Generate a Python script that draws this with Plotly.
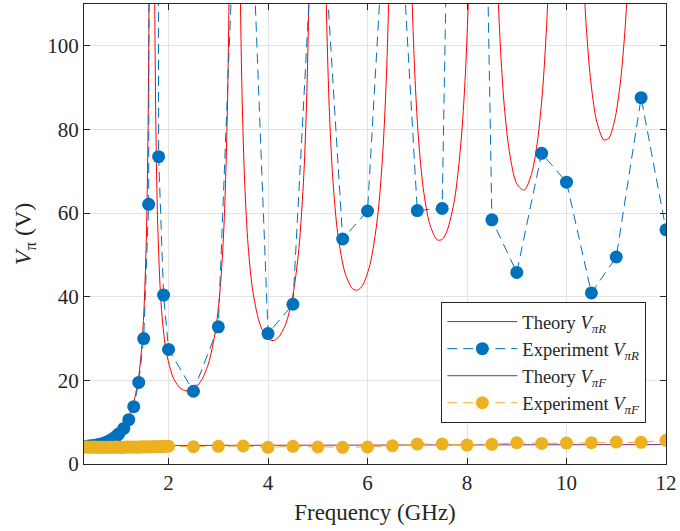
import plotly.graph_objects as go

# ---------------- data ----------------
# Theory V_piR : branches between resonances (None separates branches)
theory_R_f = [
    0.30, 0.50, 0.70, 0.90, 1.00, 1.10, 1.20, 1.30, 1.40, 1.45, 1.50, 1.55, 1.58, 1.60, 1.62, None,
    1.71, 1.72, 1.74, 1.78, 1.85, 1.95, 2.10, 2.25, 2.38, 2.50, 2.65, 2.80, 2.95, 3.05, 3.12, 3.18, 3.22, 3.24, None,
    3.43, 3.45, 3.48, 3.53, 3.60, 3.70, 3.85, 4.00, 4.10, 4.20, 4.35, 4.50, 4.62, 4.72, 4.78, 4.83, 4.86, None,
    5.15, 5.18, 5.23, 5.30, 5.40, 5.55, 5.70, 5.80, 5.90, 6.05, 6.20, 6.30, 6.38, 6.43, 6.47, None,
    6.87, 6.90, 6.95, 7.02, 7.12, 7.25, 7.40, 7.50, 7.60, 7.75, 7.88, 7.96, 8.02, 8.06, None,
    8.60, 8.63, 8.68, 8.75, 8.85, 9.00, 9.15, 9.30, 9.42, 9.52, 9.60, 9.65, None,
    10.30, 10.35, 10.40, 10.48, 10.60, 10.75, 10.85, 10.97, 11.08, 11.17, 11.22, 11.27,
]
theory_R_v = [
    4.00, 4.42, 5.17, 6.50, 7.54, 9.01, 11.21, 14.69, 21.03, 26.5, 35.41, 52.4, 72.4, 96.4, 142.8, None,
    138.0, 114.6, 86.0, 58.1, 38.3, 27.06, 20.46, 18.0, 17.45, 17.90, 19.82, 23.93, 32.33, 43.8, 58.7, 83.2, 115.8, 143.4, None,
    125.9, 106.4, 86.9, 67.3, 52.1, 40.8, 32.98, 29.95, 29.53, 30.17, 33.3, 40.4, 51.5, 69.4, 88.8, 116.9, 144.1, None,
    123.2, 105.1, 85.2, 68.5, 55.2, 45.6, 41.9, 41.56, 42.7, 47.7, 58.9, 73.1, 92.9, 113.0, 137.4, None,
    122.9, 109.4, 93.3, 78.5, 65.9, 57.4, 53.6, 53.7, 55.8, 63.3, 77.1, 91.7, 108.5, 124.5, None,
    120.1, 110.3, 97.7, 85.5, 74.8, 67.0, 65.5, 69.5, 77.5, 89.5, 104.8, 118.9, None,
    129.1, 114.7, 104.1, 92.4, 82.3, 77.5, 77.9, 82.3, 90.9, 102.9, 112.5, 125.0,
]

# Experiment V_piR
exp_R_f = [
    0.30, 0.35, 0.40, 0.45, 0.50, 0.55, 0.60, 0.65, 0.70, 0.75, 0.80, 0.85, 0.90, 0.95, 1.00,
    1.1, 1.2, 1.3, 1.4, 1.5, 1.6, 1.7, 1.8, 1.9, 2.0, 2.5, 3.0, 3.5, 4.0, 4.5, 5.0, 5.5,
    6.0, 6.5, 7.0, 7.5, 8.0, 8.5, 9.0, 9.5, 10.0, 10.5, 11.0, 11.5, 12.0,
]
exp_R_v = [
    4.20, 4.23, 4.28, 4.34, 4.42, 4.52, 4.65, 4.80, 4.99, 5.21, 5.48, 5.80, 6.18, 6.65, 7.22,
    8.5, 10.6, 13.7, 19.5, 30.0, 62.1, 900.0, 73.5, 40.4, 27.4, 17.4, 32.8, 185.0, 31.2, 38.2, 150.0, 53.8,
    60.5, 164.0, 60.6, 61.1, 400.0, 58.4, 45.8, 74.3, 67.4, 40.9, 49.5, 87.6, 56.0,
]

# Theory V_piF
theory_F_f = [0.3, 2.0, 4.0, 6.0, 8.0, 10.0, 12.0]
theory_F_v = [4.40, 4.45, 4.50, 4.55, 4.60, 4.62, 4.65]

# Experiment V_piF
exp_F_f = [
    0.30, 0.35, 0.40, 0.45, 0.50, 0.55, 0.60, 0.65, 0.70, 0.75, 0.80, 0.85, 0.90, 0.95, 1.00,
    1.05, 1.10, 1.15, 1.20, 1.25, 1.30, 1.35, 1.40, 1.45, 1.50, 1.55, 1.60, 1.65, 1.70, 1.75,
    1.80, 1.85, 1.90, 1.95, 2.00,
    2.5, 3.0, 3.5, 4.0, 4.5, 5.0, 5.5, 6.0, 6.5, 7.0, 7.5, 8.0, 8.5, 9.0, 9.5, 10.0, 10.5,
    11.0, 11.5, 12.0,
]
exp_F_v = [
    4.05, 4.08, 4.02, 4.00, 4.05, 3.98, 4.02, 4.00, 3.95, 4.00, 4.03, 3.98, 4.00, 4.05, 4.02,
    3.97, 4.00, 4.04, 4.06, 4.01, 4.05, 4.08, 4.03, 4.10, 4.06, 4.12, 4.08, 4.10, 4.15, 4.12,
    4.18, 4.15, 4.20, 4.22, 4.25,
    4.13, 4.22, 4.30, 3.98, 4.22, 4.06, 3.98, 4.06, 4.37, 4.77, 4.77, 4.53, 4.70, 5.08, 4.93, 5.01, 5.08,
    5.25, 5.18, 5.66,
]

x_ticks = [2, 4, 6, 8, 10, 12]
y_ticks = [0, 20, 40, 60, 80, 100]

# ---------------- styling ----------------
RED = "#FF0000"
BLUE = "#0072BD"
PURPLE = "#7E2F8E"
YELLOW = "#EDB120"
AXC = "#262626"
GRID = "#E3E3E3"
FONT = "Liberation Serif, serif"
DASH = "10px,6px"
MS = 13

fig = go.Figure()
fig.add_trace(go.Scatter(
    x=theory_R_f, y=theory_R_v, mode="lines", connectgaps=False,
    line=dict(color=RED, width=1, shape="spline", smoothing=0.8),
    name="Theory <i>V</i><sub><i>πR</i></sub>"))
fig.add_trace(go.Scatter(
    x=exp_R_f, y=exp_R_v, mode="lines+markers",
    line=dict(color=BLUE, width=1, dash=DASH),
    marker=dict(color=BLUE, size=MS),
    name="Experiment <i>V</i><sub><i>πR</i></sub>"))
fig.add_trace(go.Scatter(
    x=theory_F_f, y=theory_F_v, mode="lines",
    line=dict(color=PURPLE, width=1),
    name="Theory <i>V</i><sub><i>πF</i></sub>"))
fig.add_trace(go.Scatter(
    x=exp_F_f, y=exp_F_v, mode="lines+markers",
    line=dict(color=YELLOW, width=1, dash=DASH),
    marker=dict(color=YELLOW, size=MS),
    name="Experiment <i>V</i><sub><i>πF</i></sub>"))

axis_common = dict(
    showline=True, linecolor=AXC, linewidth=1, mirror="ticks",
    ticks="inside", ticklen=6, tickcolor=AXC, tickwidth=1,
    showgrid=True, gridcolor=GRID, gridwidth=1, zeroline=False,
    tickfont=dict(family=FONT, size=21, color=AXC),
)

fig.update_xaxes(
    range=[0.3, 12], tickvals=x_ticks, ticktext=[str(t) for t in x_ticks],
    title=dict(text="Frequency (GHz)", font=dict(family=FONT, size=23, color=AXC), standoff=9),
    **axis_common)
fig.update_yaxes(
    range=[0, 110], tickvals=y_ticks, ticktext=[str(t) for t in y_ticks],
    title=dict(text="<i>V</i><sub>π</sub> (V)", font=dict(family=FONT, size=24, color=AXC), standoff=8),
    **axis_common)

fig.update_layout(
    width=680, height=531,
    margin=dict(l=84, r=11, t=3, b=67, pad=0),
    paper_bgcolor="white", plot_bgcolor="white",
    font=dict(family=FONT, color=AXC),
    showlegend=True,
    legend=dict(
        x=0.614, y=0.352, xanchor="left", yanchor="top",
        bgcolor="white", bordercolor=AXC, borderwidth=1,
        font=dict(family=FONT, size=18.5, color=AXC),
        itemwidth=70, tracegroupgap=0,
    ),
)

fig.write_html("out.html")
